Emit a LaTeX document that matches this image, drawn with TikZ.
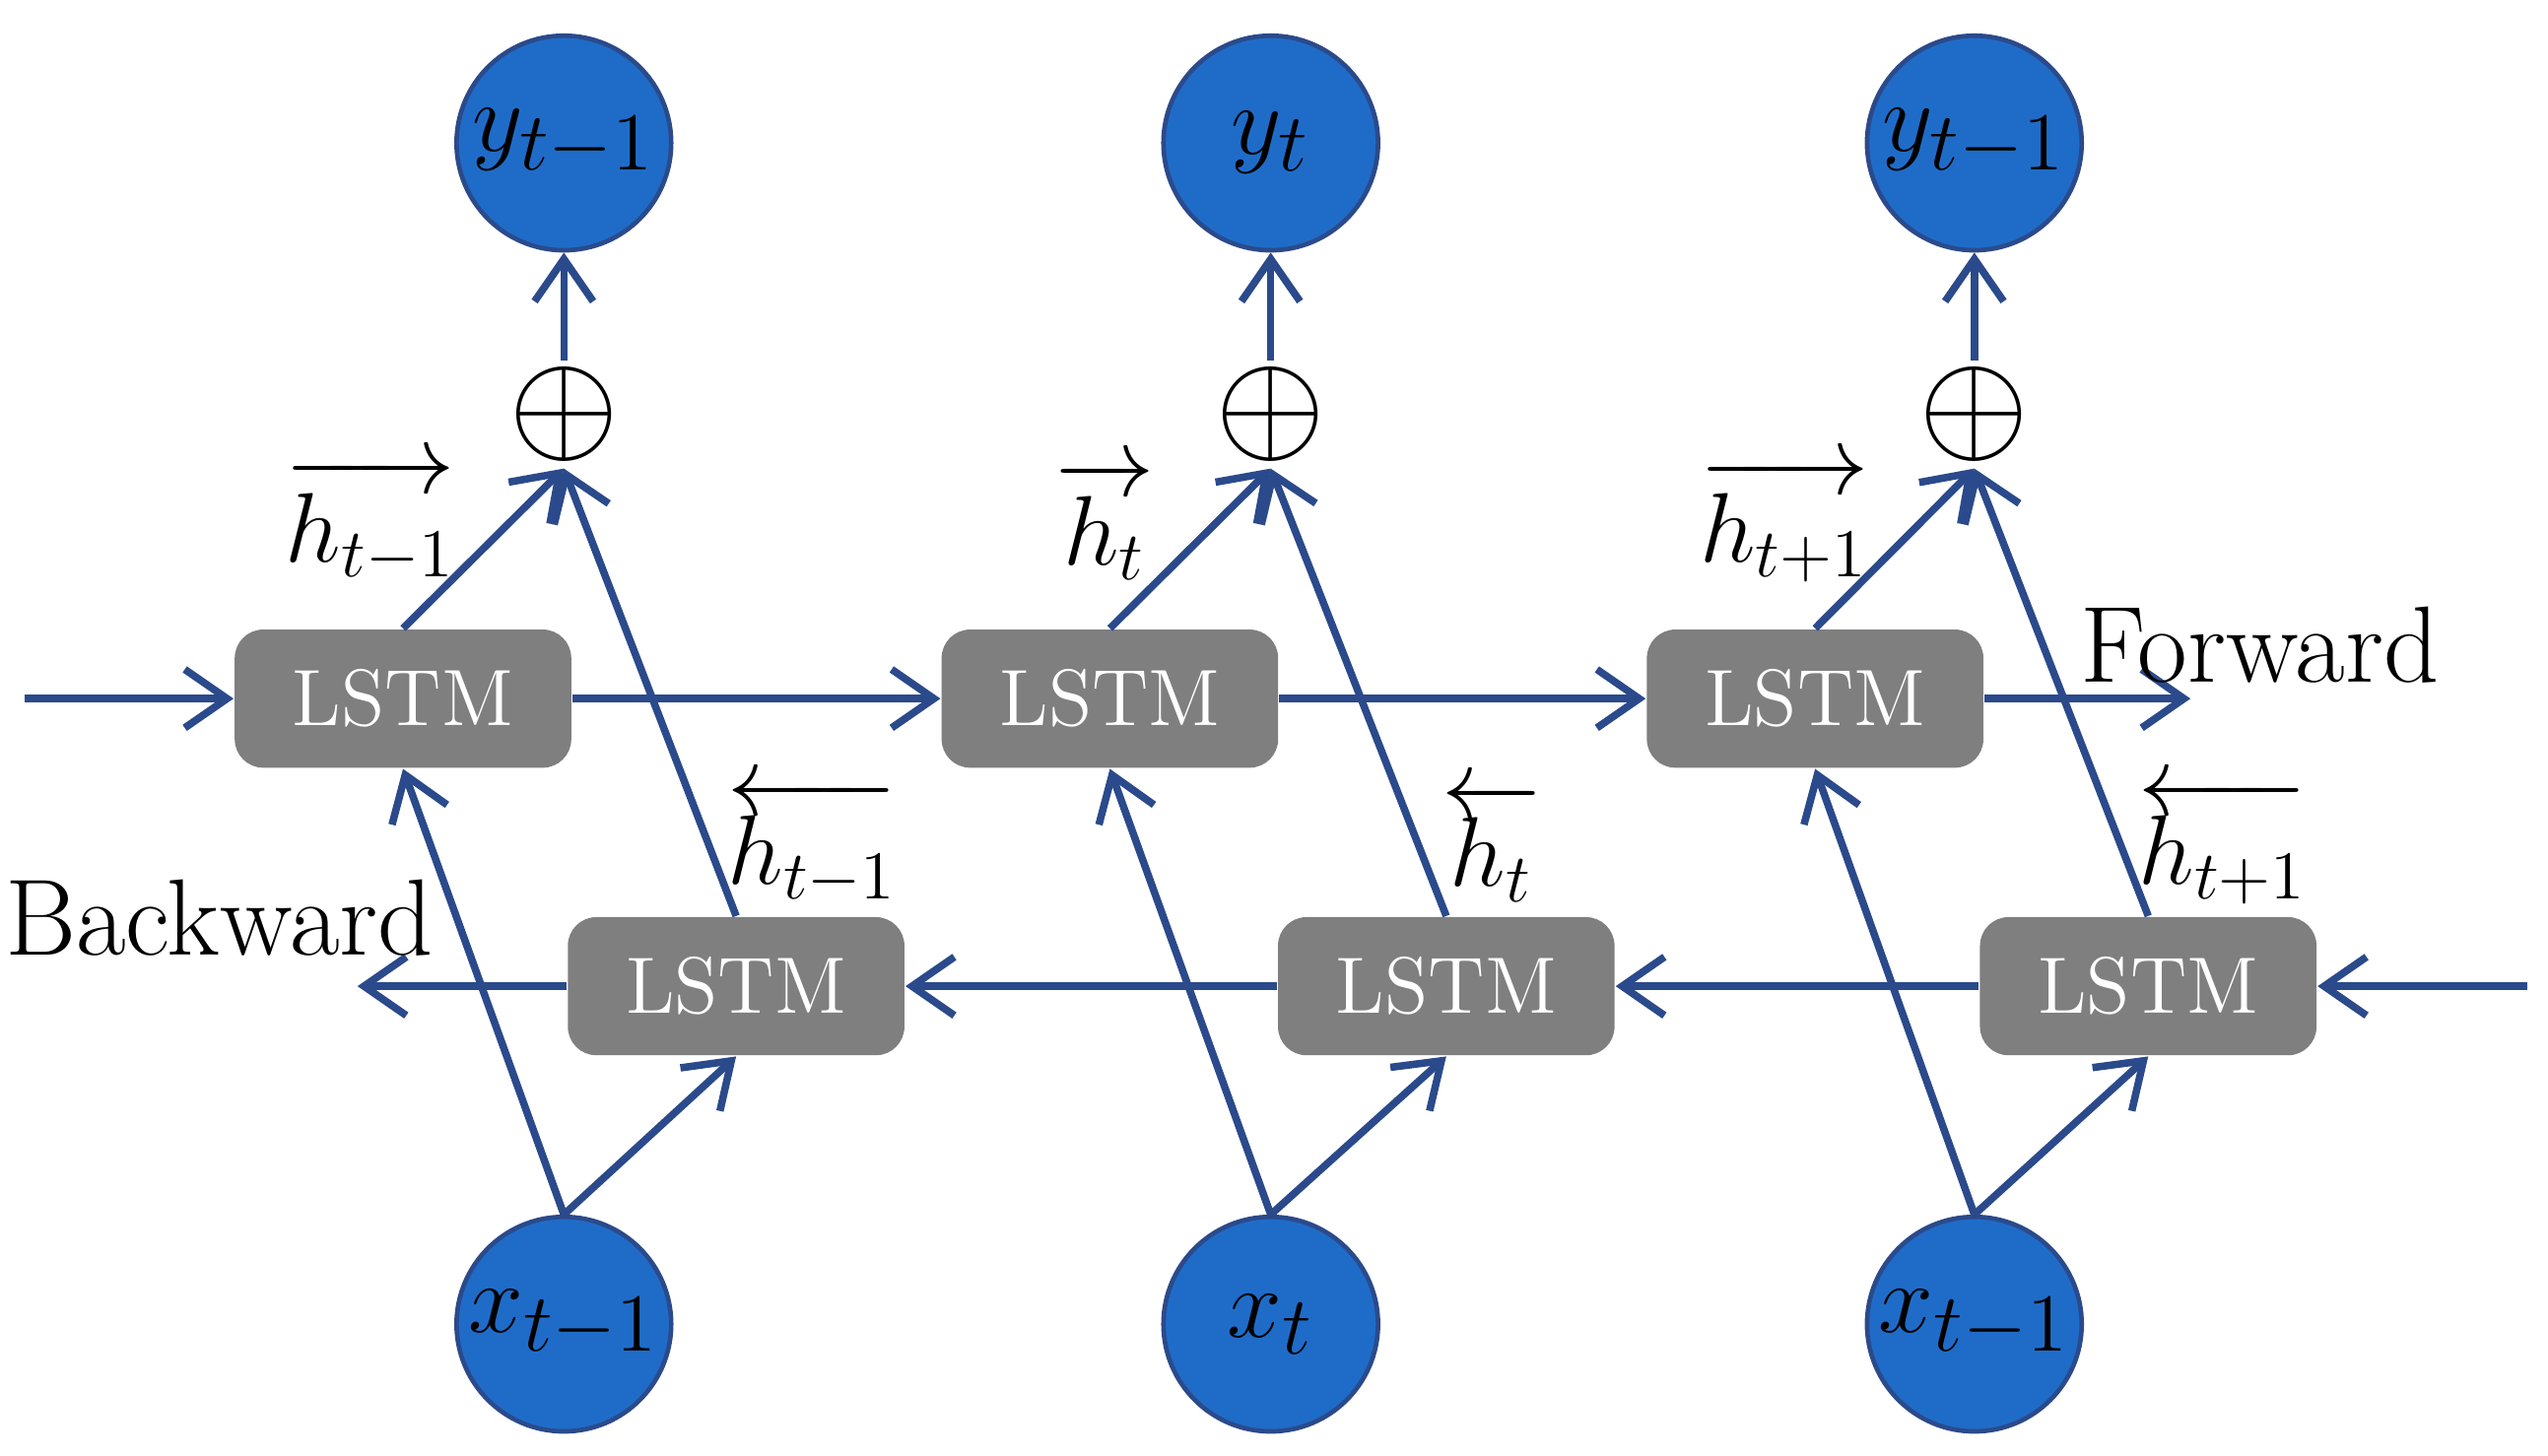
\documentclass[tikz,border=0pt]{standalone}
\usepackage{amsmath}
\usetikzlibrary{arrows.meta}
\definecolor{cblue}{HTML}{1F6CC8}
\definecolor{cline}{HTML}{2B4A8B}
\definecolor{cbox}{HTML}{7F7F7F}
\begin{document}
\begin{tikzpicture}[x=0.01cm, y=-0.01cm,
	every node/.style={font=\fontsize{19}{22}\selectfont},
	unit/.style={circle, fill=cblue, draw=cline, thick, minimum size=1.32cm, inner sep=0pt},
	cell/.style={rectangle, rounded corners=5pt, fill=cbox, minimum width=2.07cm, minimum height=0.85cm, text=white, font=\fontsize{14}{16}\selectfont},
	hlab/.style={font=\fontsize{17}{20}\selectfont},
	flow/.style={-{Straight Barb[length=2.6mm,width=3.6mm]}, line width=1.3pt, cline}]
	\useasboundingbox (0,0) rectangle (1568,896);
	% --- OUTPUTS, SUMS, INPUTS ---
	\foreach \i/\xx/\ylab/\xlab in {1/347/y_{t-1}/x_{t-1}, 2/782/y_t/x_t, 3/1215/y_{t-1}/x_{t-1}}{
		\node[unit] (y\i) at (\xx,88) {$\ylab$};
		\node[inner sep=1pt, font=\fontsize{26}{28}\selectfont] (s\i) at (\xx,255) {$\oplus$};
		\node[unit] (x\i) at (\xx,815) {$\xlab$};
		\draw[flow] (s\i) -- (y\i);
	}
	% --- LSTM CELLS ---
	\node[cell] (f1) at (248,430) {LSTM};
	\node[cell] (f2) at (683,430) {LSTM};
	\node[cell] (f3) at (1117,430) {LSTM};
	\node[cell] (b1) at (453,607) {LSTM};
	\node[cell] (b2) at (890,607) {LSTM};
	\node[cell] (b3) at (1322,607) {LSTM};
	% Forward chain
	\coordinate (fin) at (15,430);
	\coordinate (fout) at (1348,430);
	\draw[flow] (fin) -- (f1);
	\draw[flow] (f1) -- (f2);
	\draw[flow] (f2) -- (f3);
	\draw[flow] (f3) -- (fout);
	\node[anchor=west] (fw) at (1268,397) {Forward};
	% Backward chain
	\coordinate (bin) at (1555,607);
	\coordinate (bout) at (220,607);
	\draw[flow] (bin) -- (b3);
	\draw[flow] (b3) -- (b2);
	\draw[flow] (b2) -- (b1);
	\draw[flow] (b1) -- (bout);
	\node (bw) at (135,565) {Backward};
	% Inputs to cells, cells to sums
	\foreach \i in {1,2,3}{
		\draw[flow] (x\i.north) -- (f\i.south);
		\draw[flow] (x\i.north) -- (b\i.south);
		\draw[flow] (f\i.north) -- (s\i.south);
		\draw[flow] (b\i.north) -- (s\i.south);
	}
	% Hidden state labels
	\node[hlab] (hf1) at (228,320) {$\overrightarrow{h_{t-1}}$};
	\node[hlab] (hf2) at (680,320) {$\overrightarrow{h_t}$};
	\node[hlab] (hf3) at (1098,320) {$\overrightarrow{h_{t+1}}$};
	\node[hlab] (hb1) at (500,518) {$\overleftarrow{h_{t-1}}$};
	\node[hlab] (hb2) at (918,518) {$\overleftarrow{h_t}$};
	\node[hlab] (hb3) at (1368,518) {$\overleftarrow{h_{t+1}}$};
\end{tikzpicture}
\end{document}
